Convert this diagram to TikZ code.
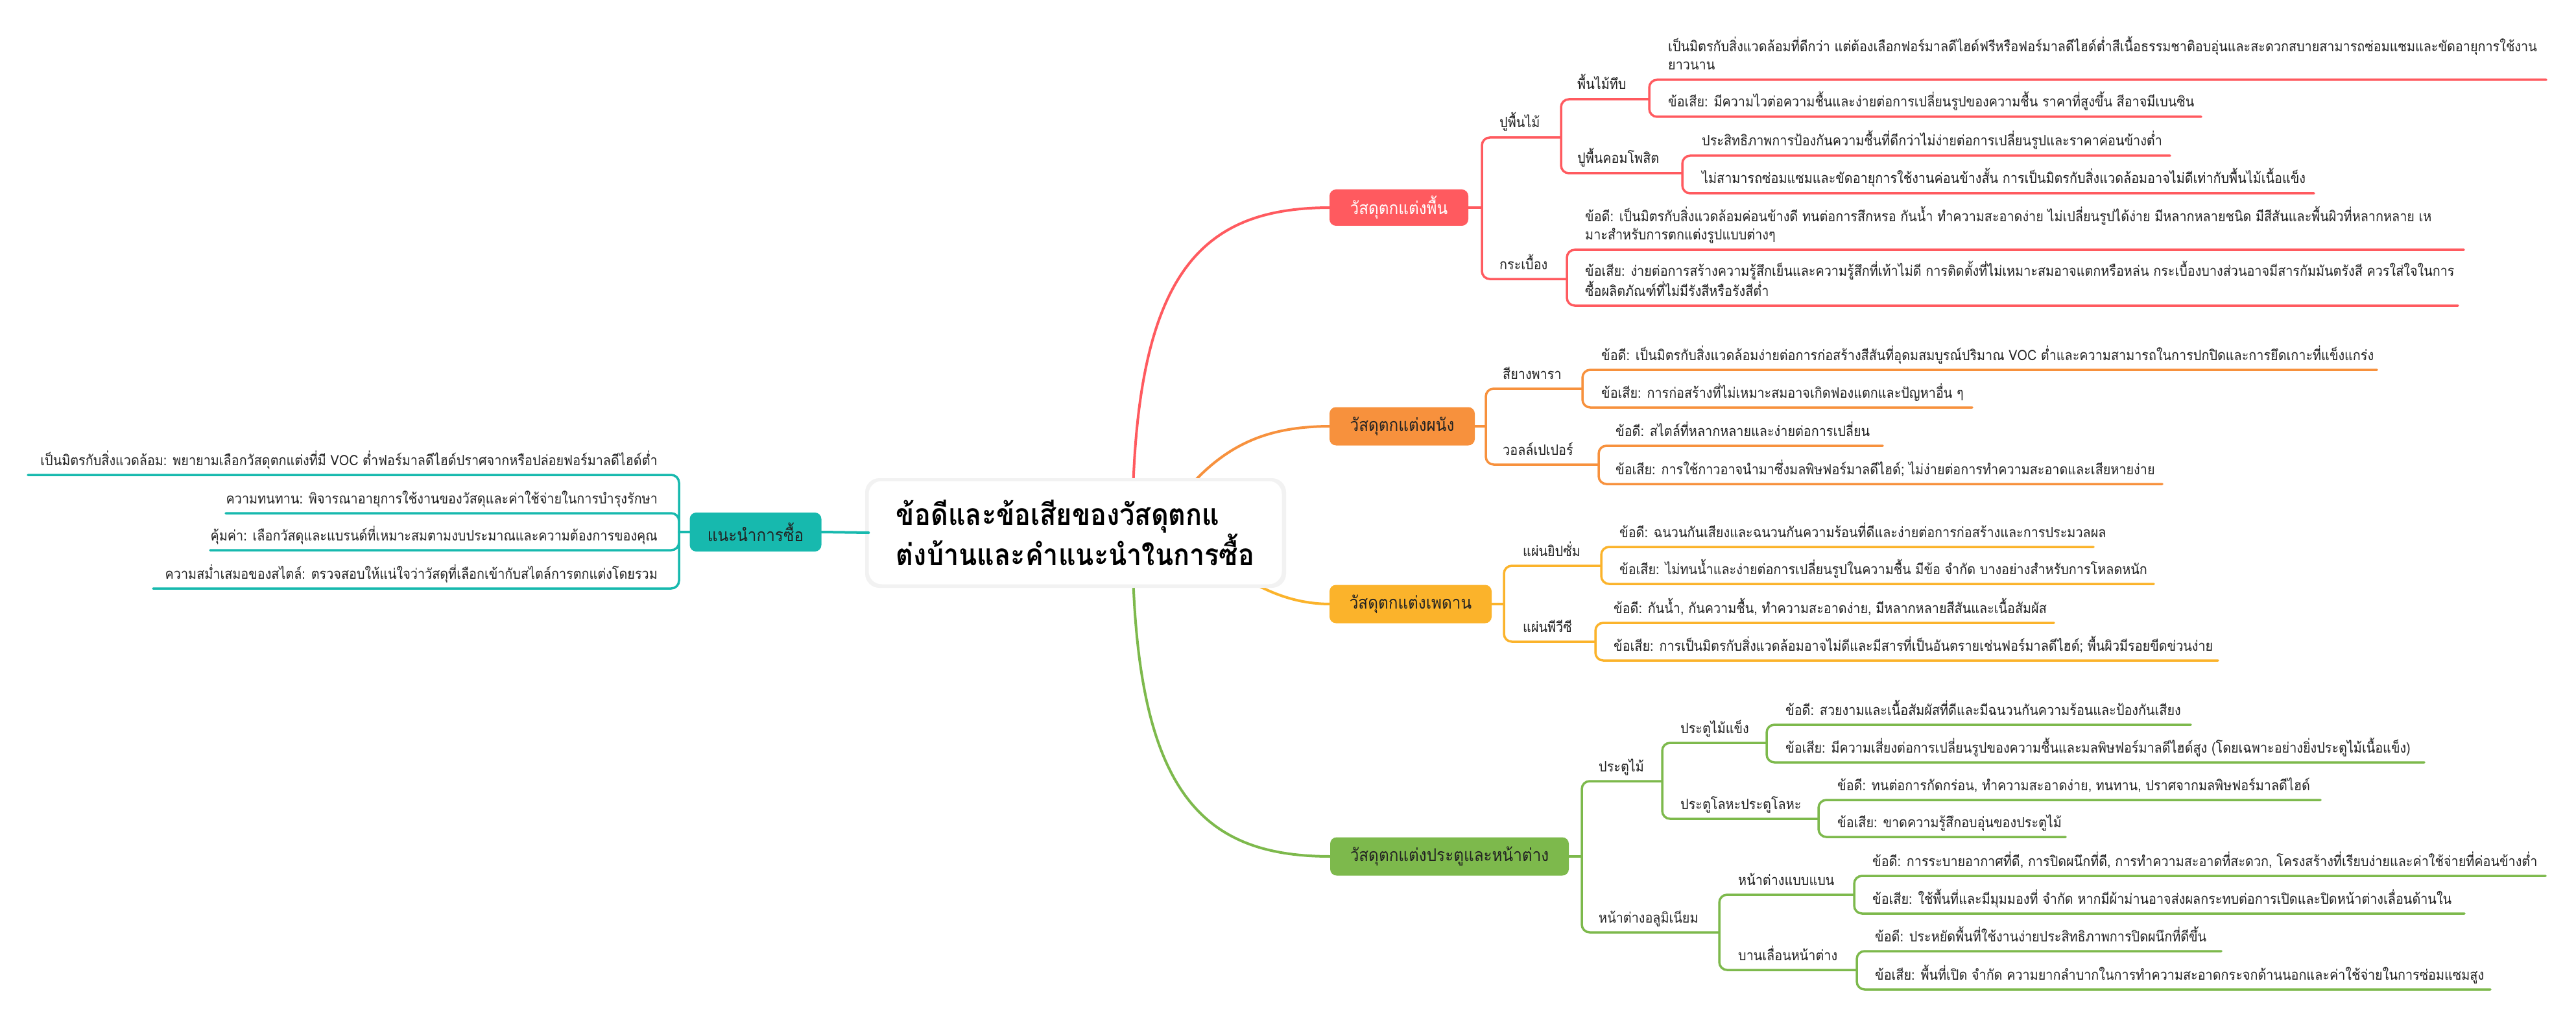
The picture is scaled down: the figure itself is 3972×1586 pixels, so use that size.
\documentclass[tikz,border=0pt]{standalone}
\usepackage{fontspec}
\setmainfont[Script=Thai,FakeStretch=0.9]{Loma}
\definecolor{cred}{HTML}{FF5A5F}
\definecolor{corange}{HTML}{F7913D}
\definecolor{cyellow}{HTML}{FBB32B}
\definecolor{cgreen}{HTML}{7DB94C}
\definecolor{cteal}{HTML}{17B9AE}
\definecolor{ctext}{HTML}{222222}
\tikzset{
  conn/.style={line width=3.5pt,rounded corners=12pt,line cap=round},
  maincurve/.style={line width=4pt,line cap=round},
  txt/.style={inner sep=0pt,text=ctext,font=\fontsize{22}{28}\selectfont,align=left},
  cat/.style={rounded corners=10pt,inner sep=0pt,font=\fontsize{27}{32}\selectfont},
  rootbox/.style={fill=white,rounded corners=20pt,inner sep=0pt,minimum width=637pt,minimum height=159pt,align=left,font=\bfseries\fontsize{46}{57}\selectfont}
}
% right-side item: name, parent, colour, text x, underline y, end x, text
\newcommand\mmR[7]{%
  \coordinate (#1-e) at (#6,#5);
  \draw[conn,#3] (#2) |- (#1-e);
  \node[txt,anchor=base west] (#1) at (#4,#5-15) {#7};}
% left item: name, parent, text right x, underline y, start x, text
\newcommand\mmL[6]{%
  \coordinate (#1-e) at (#5,#4);
  \draw[conn,cteal] (#2) |- (#1-e);
  \node[txt,anchor=base east] (#1) at (#3,#4-15) {#6};}
\begin{document}
\begin{tikzpicture}[x=1pt,y=-1pt]
\useasboundingbox[fill=white] (0,0) rectangle (3972,1586);
% main curves (hidden start behind root)
\coordinate (rc) at (1746,821);
\draw[maincurve,cred] (rc) .. controls (1746,420) and (1850,320) .. (2052,320);
\draw[maincurve,cgreen] (rc) .. controls (1746,1220) and (1850,1320) .. (2052,1320);
\draw[maincurve,corange] (1780,821) .. controls (1860,700) and (1930,657) .. (2052,657);
\draw[maincurve,cyellow] (1820,821) .. controls (1900,880) and (1960,931) .. (2052,931);
% root
\fill[black!5,rounded corners=22pt] (1334,737) rectangle (1983,906);
\node[rootbox] (root) at (1658,821) {ข้อดีและข้อเสียของวัสดุตกแ\\ต่งบ้านและคำแนะนำในการซื้อ};
% categories
\node[cat,fill=cred,text=white,minimum width=214pt,minimum height=56pt] (floor) at (2157,320) {วัสดุตกแต่งพื้น};
\node[cat,fill=corange,text=ctext,minimum width=224pt,minimum height=59pt] (wall) at (2162,657) {วัสดุตกแต่งผนัง};
\node[cat,fill=cyellow,text=ctext,minimum width=250pt,minimum height=59pt] (ceil) at (2175,931) {วัสดุตกแต่งเพดาน};
\node[cat,fill=cgreen,text=ctext,minimum width=368pt,minimum height=59pt] (door) at (2235,1320) {วัสดุตกแต่งประตูและหน้าต่าง};
\node[cat,fill=cteal,text=ctext,minimum width=203pt,minimum height=60pt] (adv) at (1165,820) {แนะนำการซื้อ};
\draw[maincurve,cteal] (root.west) -- (adv.east);
% ---------- floor ----------
\coordinate (fl-b) at (2285,320);
\draw[conn,cred] (floor.east) -- (fl-b);
\mmR{f1}{fl-b}{cred}{2312}{212}{2407}{ปูพื้นไม้}
\mmR{f2}{fl-b}{cred}{2312}{430}{2416}{กระเบื้อง}
\mmR{f11}{f1-e}{cred}{2432}{153}{2543}{พื้นไม้ทึบ}
\mmR{f12}{f1-e}{cred}{2432}{267}{2594}{ปูพื้นคอมโพสิต}
\mmR{f111}{f11-e}{cred}{2572}{123}{3926}{เป็นมิตรกับสิ่งแวดล้อมที่ดีกว่า แต่ต้องเลือกฟอร์มาลดีไฮด์ฟรีหรือฟอร์มาลดีไฮด์ต่ำสีเนื้อธรรมชาติอบอุ่นและสะดวกสบายสามารถซ่อมแซมและขัดอายุการใช้งาน\\ยาวนาน}
\mmR{f112}{f11-e}{cred}{2572}{180}{3394}{ข้อเสีย: มีความไวต่อความชื้นและง่ายต่อการเปลี่ยนรูปของความชื้น ราคาที่สูงขึ้น สีอาจมีเบนซิน}
\mmR{f121}{f12-e}{cred}{2624}{240}{3346}{ประสิทธิภาพการป้องกันความชื้นที่ดีกว่าไม่ง่ายต่อการเปลี่ยนรูปและราคาค่อนข้างต่ำ}
\mmR{f122}{f12-e}{cred}{2624}{298}{3568}{ไม่สามารถซ่อมแซมและขัดอายุการใช้งานค่อนข้างสั้น การเป็นมิตรกับสิ่งแวดล้อมอาจไม่ดีเท่ากับพื้นไม้เนื้อแข็ง}
\mmR{f21}{f2-e}{cred}{2444}{385}{3799}{ข้อดี: เป็นมิตรกับสิ่งแวดล้อมค่อนข้างดี ทนต่อการสึกหรอ กันน้ำ ทำความสะอาดง่าย ไม่เปลี่ยนรูปได้ง่าย มีหลากหลายชนิด มีสีสันและพื้นผิวที่หลากหลาย เห\\มาะสำหรับการตกแต่งรูปแบบต่างๆ}
\mmR{f22}{f2-e}{cred}{2444}{471}{3790}{ข้อเสีย: ง่ายต่อการสร้างความรู้สึกเย็นและความรู้สึกที่เท้าไม่ดี การติดตั้งที่ไม่เหมาะสมอาจแตกหรือหล่น กระเบื้องบางส่วนอาจมีสารกัมมันตรังสี ควรใส่ใจในการ\\ซื้อผลิตภัณฑ์ที่ไม่มีรังสีหรือรังสีต่ำ}
% ---------- wall ----------
\coordinate (wl-b) at (2291,657);
\draw[conn,corange] (wall.east) -- (wl-b);
\mmR{w1}{wl-b}{corange}{2317}{599}{2440}{สียางพารา}
\mmR{w2}{wl-b}{corange}{2317}{716}{2465}{วอลล์เปเปอร์}
\mmR{w11}{w1-e}{corange}{2469}{570}{3665}{ข้อดี: เป็นมิตรกับสิ่งแวดล้อมง่ายต่อการก่อสร้างสีสันที่อุดมสมบูรณ์ปริมาณ VOC ต่ำและความสามารถในการปกปิดและการยึดเกาะที่แข็งแกร่ง}
\mmR{w12}{w1-e}{corange}{2469}{628}{3041}{ข้อเสีย: การก่อสร้างที่ไม่เหมาะสมอาจเกิดฟองแตกและปัญหาอื่น ๆ}
\mmR{w21}{w2-e}{corange}{2491}{687}{2903}{ข้อดี: สไตล์ที่หลากหลายและง่ายต่อการเปลี่ยน}
\mmR{w22}{w2-e}{corange}{2491}{746}{3334}{ข้อเสีย: การใช้กาวอาจนำมาซึ่งมลพิษฟอร์มาลดีไฮด์; ไม่ง่ายต่อการทำความสะอาดและเสียหายง่าย}
% ---------- ceiling ----------
\coordinate (cl-b) at (2319,931);
\draw[conn,cyellow] (ceil.east) -- (cl-b);
\mmR{c1}{cl-b}{cyellow}{2348}{872}{2469}{แผ่นยิปซั่ม}
\mmR{c2}{cl-b}{cyellow}{2348}{989}{2460}{แผ่นพีวีซี}
\mmR{c11}{c1-e}{cyellow}{2497}{843}{3228}{ข้อดี: ฉนวนกันเสียงและฉนวนกันความร้อนที่ดีและง่ายต่อการก่อสร้างและการประมวลผล}
\mmR{c12}{c1-e}{cyellow}{2497}{900}{3321}{ข้อเสีย: ไม่ทนน้ำและง่ายต่อการเปลี่ยนรูปในความชื้น มีข้อ จำกัด บางอย่างสำหรับการโหลดหนัก}
\mmR{c21}{c2-e}{cyellow}{2488}{960}{3167}{ข้อดี: กันน้ำ, กันความชื้น, ทำความสะอาดง่าย, มีหลากหลายสีสันและเนื้อสัมผัส}
\mmR{c22}{c2-e}{cyellow}{2488}{1018}{3420}{ข้อเสีย: การเป็นมิตรกับสิ่งแวดล้อมอาจไม่ดีและมีสารที่เป็นอันตรายเช่นฟอร์มาลดีไฮด์; พื้นผิวมีรอยขีดข่วนง่าย}
% ---------- doors & windows ----------
\coordinate (dw-b) at (2439,1320);
\draw[conn,cgreen] (door.east) -- (dw-b);
\mmR{d1}{dw-b}{cgreen}{2465}{1204}{2563}{ประตูไม้}
\mmR{d2}{dw-b}{cgreen}{2465}{1437}{2651}{หน้าต่างอลูมิเนียม}
\mmR{d11}{d1-e}{cgreen}{2591}{1145}{2724}{ประตูไม้แข็ง}
\mmR{d12}{d1-e}{cgreen}{2591}{1262}{2804}{ประตูโลหะประตูโลหะ}
\mmR{d111}{d11-e}{cgreen}{2753}{1117}{3378}{ข้อดี: สวยงามและเนื้อสัมผัสที่ดีและมีฉนวนกันความร้อนและป้องกันเสียง}
\mmR{d112}{d11-e}{cgreen}{2753}{1175}{3738}{ข้อเสีย: มีความเสี่ยงต่อการเปลี่ยนรูปของความชื้นและมลพิษฟอร์มาลดีไฮด์สูง (โดยเฉพาะอย่างยิ่งประตูไม้เนื้อแข็ง)}
\mmR{d121}{d12-e}{cgreen}{2833}{1233}{3578}{ข้อดี: ทนต่อการกัดกร่อน, ทำความสะอาดง่าย, ทนทาน, ปราศจากมลพิษฟอร์มาลดีไฮด์}
\mmR{d122}{d12-e}{cgreen}{2833}{1290}{3185}{ข้อเสีย: ขาดความรู้สึกอบอุ่นของประตูไม้}
\mmR{d21}{d2-e}{cgreen}{2680}{1379}{2859}{หน้าต่างแบบแบน}
\mmR{d22}{d2-e}{cgreen}{2680}{1495}{2863}{บานเลื่อนหน้าต่าง}
\mmR{d211}{d21-e}{cgreen}{2887}{1350}{3925}{ข้อดี: การระบายอากาศที่ดี, การปิดผนึกที่ดี, การทำความสะอาดที่สะดวก, โครงสร้างที่เรียบง่ายและค่าใช้จ่ายที่ค่อนข้างต่ำ}
\mmR{d212}{d21-e}{cgreen}{2887}{1408}{3800}{ข้อเสีย: ใช้พื้นที่และมีมุมมองที่ จำกัด หากมีผ้าม่านอาจส่งผลกระทบต่อการเปิดและปิดหน้าต่างเลื่อนด้านใน}
\mmR{d221}{d22-e}{cgreen}{2891}{1466}{3425}{ข้อดี: ประหยัดพื้นที่ใช้งานง่ายประสิทธิภาพการปิดผนึกที่ดีขึ้น}
\mmR{d222}{d22-e}{cgreen}{2891}{1525}{3840}{ข้อเสีย: พื้นที่เปิด จำกัด ความยากลำบากในการทำความสะอาดกระจกด้านนอกและค่าใช้จ่ายในการซ่อมแซมสูง}
% ---------- advice ----------
\coordinate (ad-b) at (1047,820);
\draw[conn,cteal] (adv.west) -- (ad-b);
\mmL{a1}{ad-b}{1014}{732}{43}{เป็นมิตรกับสิ่งแวดล้อม: พยายามเลือกวัสดุตกแต่งที่มี VOC ต่ำฟอร์มาลดีไฮด์ปราศจากหรือปล่อยฟอร์มาลดีไฮด์ต่ำ}
\mmL{a2}{ad-b}{1014}{791}{348}{ความทนทาน: พิจารณาอายุการใช้งานของวัสดุและค่าใช้จ่ายในการบำรุงรักษา}
\mmL{a3}{ad-b}{1014}{848}{324}{คุ้มค่า: เลือกวัสดุและแบรนด์ที่เหมาะสมตามงบประมาณและความต้องการของคุณ}
\mmL{a4}{ad-b}{1014}{907}{236}{ความสม่ำเสมอของสไตล์: ตรวจสอบให้แน่ใจว่าวัสดุที่เลือกเข้ากับสไตล์การตกแต่งโดยรวม}
\end{tikzpicture}
\end{document}
